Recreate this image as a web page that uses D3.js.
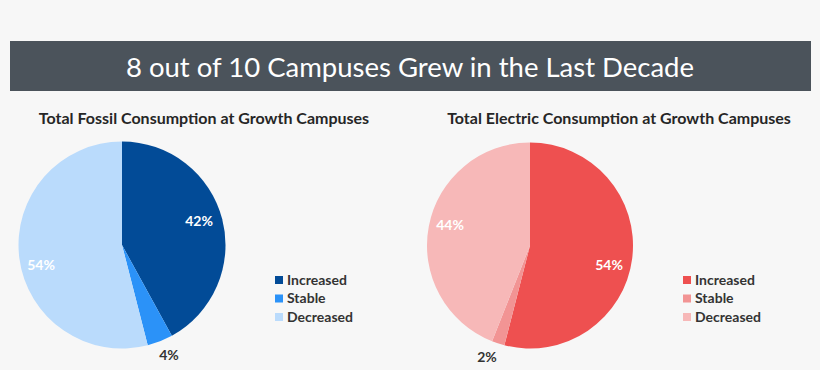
<!DOCTYPE html>
<html><head><meta charset="utf-8">
<script src="https://cdn.jsdelivr.net/npm/d3@7"></script>
<style>
html,body{margin:0;padding:0;background:#f7f7f7;}
svg{display:block;}
</style></head>
<body>
<svg id="c" width="820" height="370"></svg>
<script>
const title = "8 out of 10 Campuses Grew in the Last Decade";
const categories = ["Increased", "Stable", "Decreased"];
const fossilTitle = "Total Fossil Consumption at Growth Campuses";
const fossilValues = [42, 4, 54];
const fossilColors = ["#024b97", "#2b92f8", "#badbfc"];
const electricTitle = "Total Electric Consumption at Growth Campuses";
const electricValues = [54, 2, 44];
const electricColors = ["#ee5050", "#f29494", "#f7b8b8"];

const svg = d3.select("#c");
const font = "Lato, 'Open Sans', sans-serif";

svg.append("rect").attr("x", 10).attr("y", 41).attr("width", 801).attr("height", 50).attr("fill", "#4b535b");
svg.append("text").attr("x", 410).attr("y", 77).attr("text-anchor", "middle")
  .attr("fill", "#fff").attr("font-family", font).attr("font-size", 27.5).text(title);

function drawPie(cfg) {
  const g = svg.append("g");
  g.append("text").attr("x", cfg.titleX).attr("y", 124).attr("text-anchor", "middle")
    .attr("font-family", font).attr("font-weight", 700).attr("font-size", 16)
    .attr("fill", "#262626").text(cfg.title);
  const pie = d3.pie().sort(null).value(d => d)(cfg.values);
  const arc = d3.arc().innerRadius(0).outerRadius(cfg.r);
  const pg = g.append("g").attr("transform", `translate(${cfg.cx},${cfg.cy})`);
  pg.selectAll("path").data(pie).join("path")
    .attr("d", arc).attr("fill", (d, i) => cfg.colors[i]);
  pg.selectAll("text").data(pie).join("text")
    .attr("x", (d, i) => cfg.labelPos[i][0] - cfg.cx)
    .attr("y", (d, i) => cfg.labelPos[i][1] - cfg.cy)
    .attr("dy", "0.35em").attr("text-anchor", "middle")
    .attr("font-family", font).attr("font-weight", 700).attr("font-size", 14)
    .attr("fill", (d, i) => cfg.labelInside[i] ? "#fff" : "#333")
    .text(d => d.data + "%");
  const lg = g.append("g").attr("transform", `translate(${cfg.legX},280)`);
  const items = lg.selectAll("g").data(categories).join("g")
    .attr("transform", (d, i) => `translate(0,${i * 18.5})`);
  items.append("rect").attr("x", 0).attr("y", -4).attr("width", 8).attr("height", 8)
    .attr("fill", (d, i) => cfg.colors[i]);
  items.append("text").attr("x", 12).attr("dy", "0.35em")
    .attr("font-family", font).attr("font-weight", 700).attr("font-size", 14)
    .attr("fill", "#333").text(d => d);
}

drawPie({title: fossilTitle, titleX: 204, values: fossilValues, colors: fossilColors,
  cx: 122, cy: 245, r: 103.5, legX: 275,
  labelPos: [[199, 221], [169, 355], [41, 265]], labelInside: [true, false, true]});
drawPie({title: electricTitle, titleX: 619, values: electricValues, colors: electricColors,
  cx: 530, cy: 245.5, r: 103, legX: 683,
  labelPos: [[609, 265], [487, 357], [450, 225]], labelInside: [true, false, true]});
</script>
</body></html>
